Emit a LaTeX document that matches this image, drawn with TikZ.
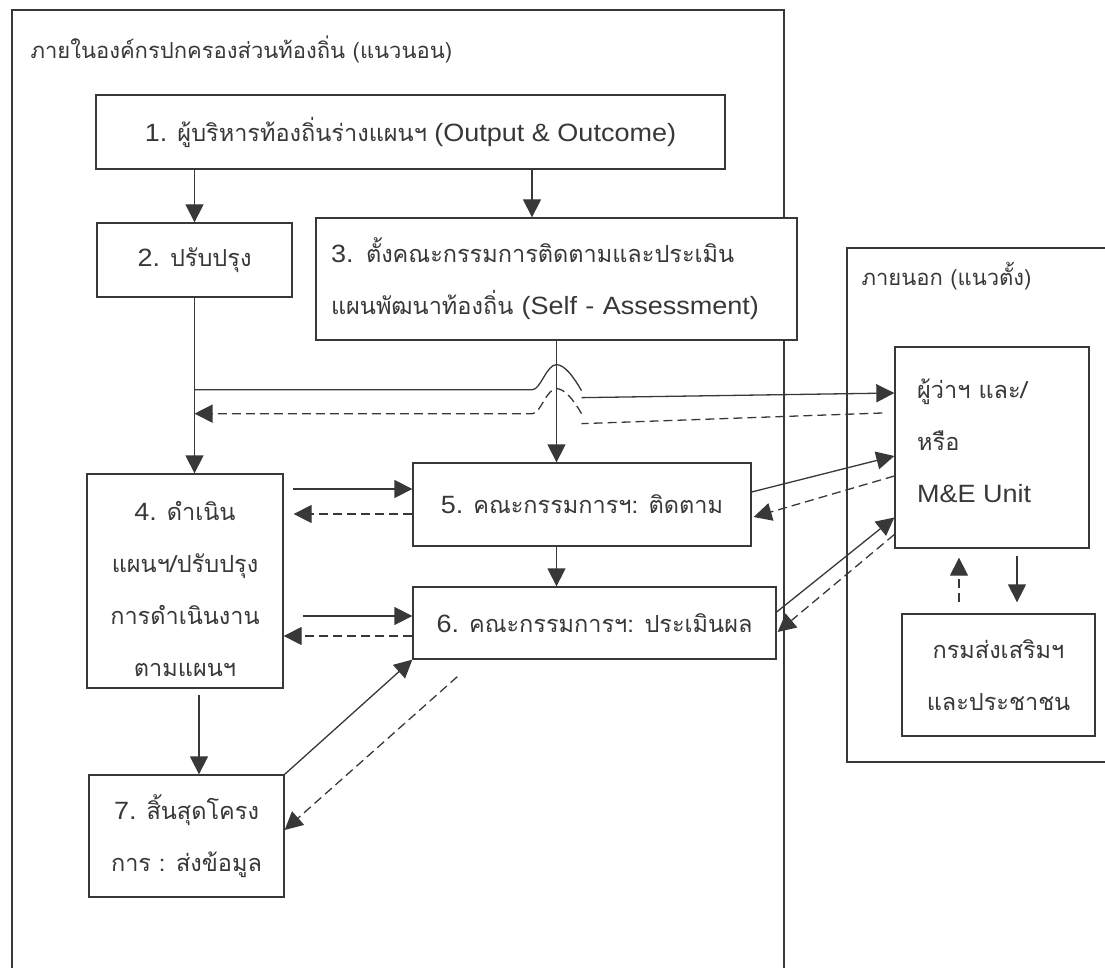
\documentclass[tikz,border=0pt]{standalone}
\usepackage{fontspec}
\setmainfont{Liberation Sans}[FakeStretch=1.08]
\newfontfamily\thaifont[Script=Thai]{Loma}
\newcommand\thx[1]{{\thaifont\fontsize{23.5}{52}\selectfont #1}}
\newcommand\thtitle[1]{{\thaifont\fontsize{22}{52}\selectfont #1}}
\usetikzlibrary{arrows.meta,calc}
\definecolor{ink}{HTML}{383838}
\begin{document}
\begin{tikzpicture}[x=1pt,y=-1pt,
  every node/.style={font=\fontsize{25}{52}\selectfont, text=ink},
  box/.style={draw=ink, line width=1.3pt, fill=white, inner sep=0pt, align=center},
  label/.style={inner sep=0pt},
  link/.style={draw=ink, line width=1.3pt},
  arr/.style={link, -{Triangle[length=18pt,width=18pt]}},
  dsh/.style={dash pattern=on 9pt off 5pt},
]
\useasboundingbox (0,0) rectangle (1105,968);
\clip (0,0) rectangle (1105,968);

% outer frames: inside the local organisation / outside
\draw[link] (12,10) rectangle (784,1000);
\draw[link] (847,248) rectangle (1130,762);

\node[anchor=west] (t1) at (27,50) {\thtitle{ภายในองค์กรปกครองส่วนท้องถิ่น (แนวนอน)}};
\node[anchor=west] (t2) at (858,276) {\thtitle{ภายนอก (แนวตั้ง)}};

% process boxes
\node[box, minimum width=629pt, minimum height=74pt] (b1) at (410.5,132)
  {1. \thx{ผู้บริหารท้องถิ่นร่างแผนฯ} (Output \& Outcome)};
\node[box, minimum width=195pt, minimum height=74pt] (b2) at (194.5,260)
  {2. \thx{ปรับปรุง}};
\node[box, text width=451pt, inner xsep=15pt, minimum height=122pt, align=left] (b3) at (556.5,279)
  {3. \thx{ตั้งคณะกรรมการติดตามและประเมิน}\\ \thx{แผนพัฒนาท้องถิ่น} (Self - Assessment)};
\node[box, minimum width=196pt, minimum height=214pt] (b4) at (185,581) {};
\node[label, align=center] (b4t) at (185,589)
  {4. \thx{ดำเนิน}\\ \thx{แผนฯ/ปรับปรุง}\\ \thx{การดำเนินงาน}\\ \thx{ตามแผนฯ}};
\node[box, minimum width=338pt, minimum height=83pt] (b5) at (582,504.5)
  {5. \thx{คณะกรรมการฯ: ติดตาม}};
\node[box, minimum width=363pt, minimum height=72pt] (b6) at (594.5,623)
  {6. \thx{คณะกรรมการฯ: ประเมินผล}};
\node[box, minimum width=195pt, minimum height=122pt] (b7) at (186.5,836)
  {7. \thx{สิ้นสุดโครง}\\ \thx{การ : ส่งข้อมูล}};
\node[box, minimum width=194pt, minimum height=201pt] (me) at (992,447.5) {};
\node[label, anchor=west, align=left] (met) at (917,441)
  {\thx{ผู้ว่าฯ และ/}\\ \thx{หรือ}\\ M\&E Unit};
\node[box, minimum width=193pt, minimum height=122pt] (dept) at (998.5,675)
  {\thx{กรมส่งเสริมฯ}\\ \thx{และประชาชน}};

% flow from the top
\draw[arr] (b2.north |- b1.south) -- (b2.north);
\draw[arr] ($(b3.north |- b1.south)+(-24.5,0)$) -- ($(b3.north)+(-24.5,0)$);
\draw[arr] (b2.south) -- (b2.south |- b4.north);
\coordinate (j1) at ($(b2.south)+(0,92)$);
\coordinate (j2) at ($(b2.south)+(0,116)$);

% lines hopping over the vertical from box 3
\draw[arr] (j1) -- ($(b3.south |- j1)+(-24,0)$)
  .. controls +(8,0) and +(-10,0) .. ($(b3.south |- j1)+(0,-25)$)
  .. controls +(8,0) and +(-8,-14) .. ($(b3.south |- j1)+(25,1)$)
  ($(b3.south |- j1)+(25,8)$) -- ($(me.west)+(0,-54.5)$);
\draw[arr, dsh] ($(me.west)+(-12,-34.5)$) -- ($(b3.south |- j2)+(25,10)$)
  ($(b3.south |- j2)+(25,0)$)
  .. controls +(-8,-14) and +(8,0) .. ($(b3.south |- j2)+(0,-25)$)
  .. controls +(-10,0) and +(8,0) .. ($(b3.south |- j2)+(-24,0)$) -- (j2);

\draw[arr] (b3.south) -- (b3.south |- b5.north);
\draw[arr] (b3.south |- b5.south) -- (b3.south |- b6.north);

% between box 4 and the committee boxes
\draw[arr] ($(b4.east |- b5.west)+(9,-15.5)$) -- ($(b5.west)+(0,-15.5)$);
\draw[arr, dsh] ($(b5.west)+(0,9.5)$) -- ($(b4.east |- b5.west)+(10,9.5)$);
\draw[arr] ($(b4.east |- b6.west)+(19,-7)$) -- ($(b6.west)+(0,-7)$);
\draw[arr, dsh] ($(b6.west)+(0,13)$) -- ($(b4.east |- b6.west)+(0,13)$);
\draw[arr] ($(b4.south)+(14,6)$) -- ($(b4.south |- b7.north)+(14,0)$);
\draw[arr] (b7.north east) -- (b6.south west);
\draw[arr, dsh] ($(b6.south west)+(45,17)$) -- ($(b7.east)+(0,-6)$);

% exchanges with the outside unit
\draw[arr] ($(b5.east)+(0,-12.5)$) -- ($(me.west)+(0,8.5)$);
\draw[arr, dsh] ($(me.west)+(0,28.5)$) -- ($(b5.east)+(2,12.5)$);
\draw[arr] ($(b6.east)+(0,-11)$) -- ($(me.west)+(0,70)$);
\draw[arr, dsh] ($(me.west)+(0,87)$) -- ($(b6.east)+(1,9)$);
\draw[arr, dsh] ($(dept.north)+(-39.5,-11)$) -- ($(me.south)+(-33,9)$);
\draw[arr] ($(me.south)+(25,7)$) -- ($(dept.north)+(18.5,-11)$);
\end{tikzpicture}
\end{document}
